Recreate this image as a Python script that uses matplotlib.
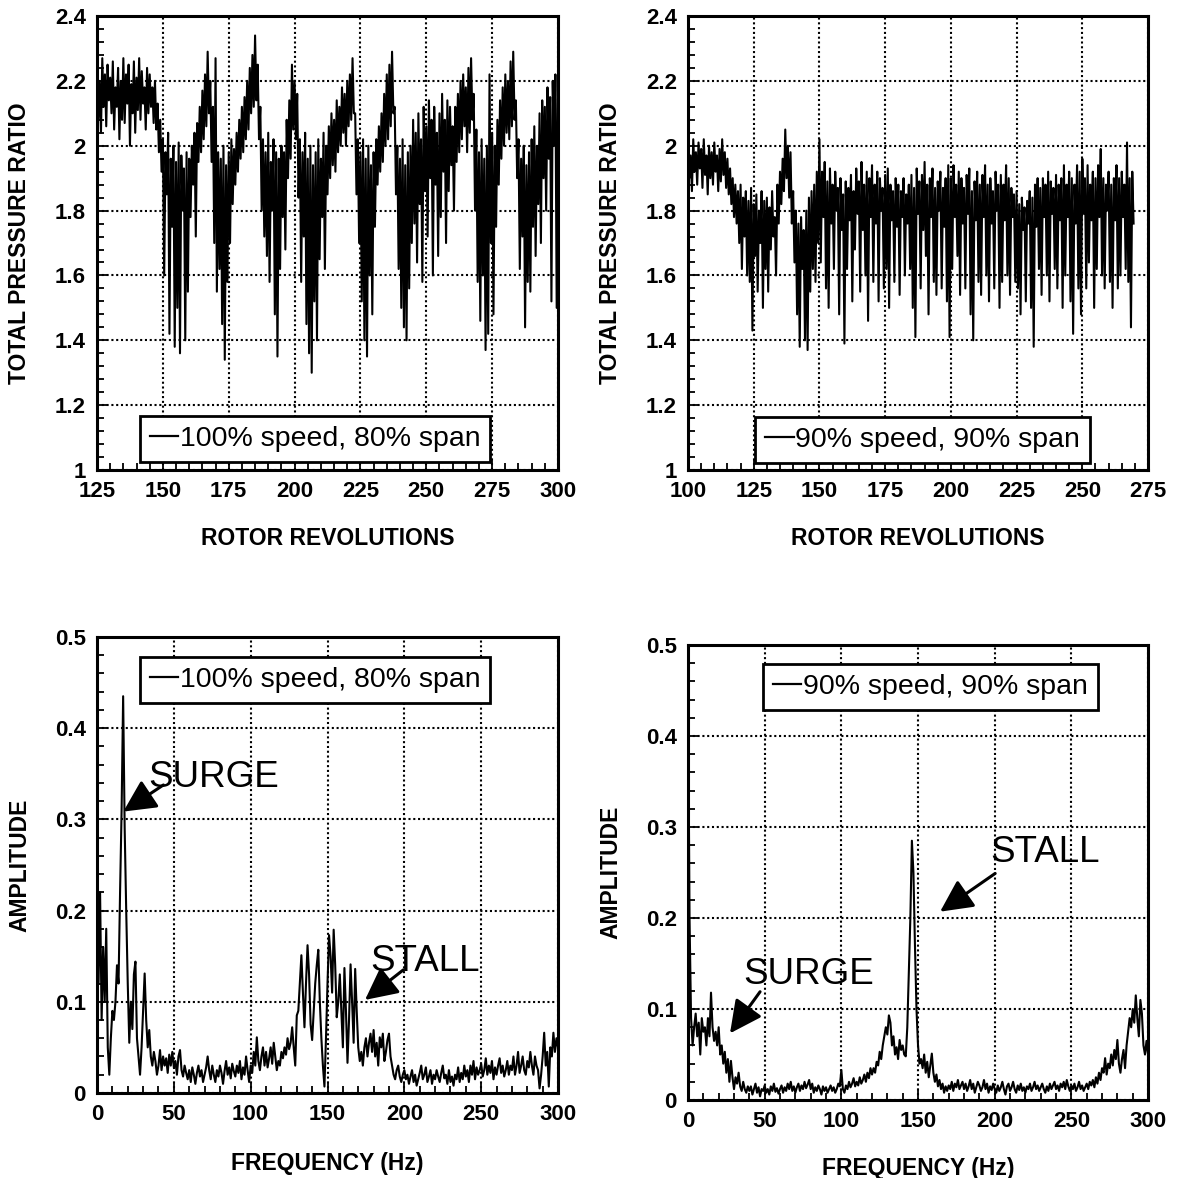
import numpy as np
import matplotlib
matplotlib.use("Agg")
import matplotlib.pyplot as plt
from matplotlib.lines import Line2D
from matplotlib.ticker import MultipleLocator, FuncFormatter
from matplotlib.font_manager import FontProperties

plt.rcParams['font.family'] = ['Liberation Sans', 'DejaVu Sans']

# ---------------- time traces: per-revolution peak / trough of total pressure ratio
rev_a_start = 125
peak_a = [
    2.24, 2.20, 2.27, 2.22, 2.25, 2.21, 2.26, 2.18, 2.24, 2.20,
    2.27, 2.22, 2.25, 2.19, 2.26, 2.21, 2.27, 2.23, 2.18, 2.24,
    2.22, 2.18, 2.20, 2.13, 2.08, 2.02, 1.98, 2.04, 1.96, 2.00,
    1.95, 2.01, 1.97, 1.93, 1.98, 1.96, 2.00, 2.04, 2.07, 2.12,
    2.17, 2.22, 2.29, 2.20, 2.12, 2.27, 1.98, 1.96, 2.00, 1.94,
    1.98, 2.02, 1.99, 2.04, 2.08, 2.12, 2.15, 2.20, 2.24, 2.28,
    2.34, 2.25, 2.12, 2.02, 1.98, 2.04, 1.95, 2.02, 1.98, 1.96,
    2.00, 1.98, 2.08, 2.14, 2.25, 2.20, 2.16, 2.02, 1.98, 2.04,
    1.96, 2.00, 1.94, 1.98, 2.02, 1.96, 2.04, 2.00, 2.06, 2.10,
    2.08, 2.14, 2.12, 2.18, 2.16, 2.20, 2.22, 2.27, 2.10, 2.02,
    1.98, 2.02, 1.96, 2.00, 1.94, 1.98, 2.02, 2.06, 2.10, 2.16,
    2.22, 2.25, 2.29, 2.12, 2.00, 1.96, 2.02, 1.94, 1.98, 2.00,
    2.08, 2.04, 2.10, 2.02, 2.12, 2.06, 2.14, 2.08, 2.12, 2.04,
    2.10, 2.16, 2.08, 2.14, 2.12, 2.06, 2.12, 2.16, 2.20, 2.22,
    2.18, 2.24, 2.27, 2.16, 2.05, 1.98, 2.02, 1.96, 2.00, 2.22,
    2.04, 2.00, 2.08, 2.14, 2.18, 2.22, 2.20, 2.26, 2.29, 2.14,
    2.02, 1.96, 2.00, 1.94, 1.98, 2.02, 2.06, 2.00, 2.10, 2.14,
    2.12, 2.18, 2.15, 2.20, 2.22, 2.22,
]
trough_a = [
    2.08, 2.04, 2.12, 2.06, 2.14, 2.10, 2.05, 2.12, 2.02, 2.08,
    2.07, 2.13, 2.00, 2.10, 2.04, 2.11, 2.08, 2.13, 2.05, 2.10,
    2.12, 2.07, 2.05, 1.98, 1.92, 1.60, 1.85, 1.42, 1.75, 1.38,
    1.50, 1.36, 1.80, 1.40, 1.55, 1.78, 1.88, 1.72, 1.95, 1.98,
    2.02, 2.06, 2.10, 1.95, 1.70, 1.55, 1.62, 1.45, 1.34, 1.58,
    1.70, 1.82, 1.88, 1.92, 1.96, 1.98, 2.02, 2.05, 2.10, 2.12,
    2.14, 2.02, 1.80, 1.72, 1.66, 1.58, 1.80, 1.48, 1.35, 1.62,
    1.78, 1.68, 1.90, 1.96, 2.05, 2.02, 1.84, 1.58, 1.72, 1.45,
    1.36, 1.30, 1.52, 1.40, 1.65, 1.78, 1.62, 1.85, 1.90, 1.94,
    1.92, 1.98, 2.00, 2.04, 2.00, 2.06, 2.08, 2.10, 1.85, 1.70,
    1.52, 1.40, 1.35, 1.60, 1.48, 1.75, 1.88, 1.92, 1.95, 2.00,
    2.02, 2.06, 2.10, 1.85, 1.62, 1.50, 1.44, 1.40, 1.56, 1.70,
    1.76, 1.64, 1.82, 1.58, 1.86, 1.72, 1.90, 1.60, 1.88, 1.66,
    1.78, 1.92, 1.70, 1.86, 1.94, 1.80, 1.95, 1.98, 2.02, 2.06,
    1.98, 2.04, 2.08, 1.80, 1.58, 1.46, 1.60, 1.37, 1.42, 1.70,
    1.48, 1.75, 1.88, 1.96, 2.00, 2.04, 2.02, 2.06, 2.08, 1.90,
    1.62, 1.72, 1.44, 1.58, 1.55, 1.75, 1.66, 1.82, 1.70, 1.90,
    1.80, 1.96, 1.52, 2.00, 1.50,
]

rev_b_start = 100
peak_b = [
    2.00, 1.97, 2.02, 1.98, 2.01, 1.99, 2.02, 1.97, 2.00, 1.98,
    2.01, 1.97, 1.99, 2.02, 1.98, 1.96, 1.93, 1.90, 1.88, 1.86,
    1.88, 1.84, 1.86, 1.83, 1.87, 1.82, 1.85, 1.80, 1.86, 1.83,
    1.84, 1.81, 1.86, 1.78, 1.88, 1.92, 1.96, 2.05, 2.00, 1.98,
    1.86, 1.80, 1.76, 1.78, 1.74, 1.80, 1.84, 1.86, 1.88, 1.92,
    2.02, 1.92, 1.95, 1.89, 1.93, 1.88, 1.92, 1.87, 1.90, 1.85,
    1.89, 1.87, 1.91, 1.86, 1.93, 1.89, 1.95, 1.88, 1.92, 1.90,
    1.94, 1.88, 1.92, 1.90, 1.87, 1.91, 1.93, 1.88, 1.86, 1.90,
    1.88, 1.86, 1.90, 1.85, 1.88, 1.91, 1.87, 1.93, 1.89, 1.91,
    1.95, 1.88, 1.90, 1.93, 1.87, 1.89, 1.92, 1.87, 1.90, 1.94,
    1.90, 1.94, 1.88, 1.92, 1.90, 1.87, 1.91, 1.93, 1.86, 1.89,
    1.92, 1.88, 1.91, 1.94, 1.88, 1.90, 1.86, 1.92, 1.88, 1.91,
    1.88, 1.94, 1.90, 1.87, 1.85, 1.86, 1.82, 1.84, 1.81, 1.83,
    1.86, 1.84, 1.88, 1.90, 1.87, 1.90, 1.88, 1.92, 1.89, 1.87,
    1.91, 1.88, 1.90, 1.94, 1.88, 1.92, 1.90, 1.88, 1.94, 1.92,
    1.96, 1.90, 1.94, 1.88, 1.92, 1.90, 1.94, 1.99, 1.90, 1.88,
    1.92, 1.88, 1.90, 1.94, 1.90, 1.92, 1.88, 2.01, 1.90, 1.92,
]
trough_b = [
    1.90, 1.86, 1.92, 1.88, 1.93, 1.87, 1.91, 1.85, 1.90, 1.88,
    1.92, 1.86, 1.89, 1.91, 1.87, 1.85, 1.82, 1.78, 1.76, 1.70,
    1.62, 1.72, 1.60, 1.58, 1.43, 1.66, 1.55, 1.70, 1.50, 1.62,
    1.55, 1.68, 1.72, 1.60, 1.76, 1.82, 1.86, 1.90, 1.84, 1.76,
    1.64, 1.48, 1.38, 1.62, 1.40, 1.37, 1.55, 1.62, 1.58, 1.70,
    1.64, 1.78, 1.56, 1.50, 1.76, 1.62, 1.80, 1.48, 1.74, 1.39,
    1.62, 1.77, 1.52, 1.68, 1.79, 1.55, 1.74, 1.60, 1.46, 1.78,
    1.58, 1.76, 1.52, 1.80, 1.56, 1.62, 1.50, 1.77, 1.58, 1.75,
    1.54, 1.78, 1.60, 1.76, 1.62, 1.50, 1.41, 1.79, 1.56, 1.74,
    1.66, 1.48, 1.78, 1.58, 1.54, 1.80, 1.56, 1.75, 1.52, 1.41,
    1.62, 1.78, 1.66, 1.54, 1.76, 1.56, 1.79, 1.48, 1.40, 1.77,
    1.58, 1.54, 1.78, 1.60, 1.52, 1.76, 1.56, 1.80, 1.50, 1.58,
    1.77, 1.60, 1.54, 1.78, 1.58, 1.56, 1.48, 1.74, 1.52, 1.76,
    1.50, 1.38, 1.75, 1.62, 1.54, 1.78, 1.60, 1.52, 1.79, 1.62,
    1.56, 1.77, 1.50, 1.60, 1.78, 1.52, 1.42, 1.76, 1.56, 1.48,
    1.79, 1.56, 1.64, 1.77, 1.50, 1.62, 1.78, 1.60, 1.56, 1.80,
    1.58, 1.50, 1.77, 1.56, 1.60, 1.78, 1.62, 1.58, 1.44, 1.76,
]

# ---------------- amplitude spectra, 1 Hz bins from 0 to 300 Hz
amp_a = [
    0.27, 0.12, 0.22, 0.08, 0.16, 0.10, 0.18, 0.05, 0.02, 0.06,
    0.09, 0.08, 0.10, 0.14, 0.12, 0.22, 0.31, 0.435, 0.29, 0.20,
    0.12, 0.055, 0.10, 0.07, 0.13, 0.144, 0.06, 0.04, 0.02, 0.05,
    0.09, 0.131, 0.08, 0.05, 0.069, 0.04, 0.03, 0.045, 0.035, 0.02,
    0.03, 0.047, 0.025, 0.04, 0.03, 0.038, 0.022, 0.042, 0.03, 0.045,
    0.028, 0.035, 0.02, 0.04, 0.047, 0.025, 0.018, 0.03, 0.022, 0.015,
    0.025, 0.012, 0.028, 0.02, 0.01, 0.022, 0.03, 0.018, 0.025, 0.012,
    0.02, 0.028, 0.04, 0.025, 0.015, 0.03, 0.02, 0.012, 0.025, 0.018,
    0.03, 0.022, 0.01, 0.024, 0.035, 0.02, 0.028, 0.016, 0.032, 0.024,
    0.018, 0.03, 0.022, 0.035, 0.015, 0.028, 0.02, 0.04, 0.025, 0.012,
    0.03, 0.022, 0.045, 0.03, 0.061, 0.035, 0.025, 0.04, 0.05, 0.03,
    0.045, 0.028, 0.038, 0.05, 0.032, 0.055, 0.04, 0.025, 0.035, 0.03,
    0.045, 0.038, 0.05, 0.042, 0.06, 0.048, 0.055, 0.072, 0.05, 0.03,
    0.085, 0.09, 0.12, 0.151, 0.11, 0.072, 0.12, 0.162, 0.13, 0.075,
    0.058, 0.09, 0.12, 0.14, 0.157, 0.10, 0.06, 0.03, 0.007, 0.06,
    0.12, 0.173, 0.15, 0.11, 0.179, 0.14, 0.083, 0.10, 0.13, 0.09,
    0.05, 0.137, 0.09, 0.033, 0.08, 0.141, 0.10, 0.055, 0.136, 0.09,
    0.05, 0.035, 0.045, 0.03, 0.05, 0.06, 0.04, 0.055, 0.065, 0.045,
    0.069, 0.04, 0.055, 0.03, 0.061, 0.05, 0.065, 0.035, 0.045, 0.058,
    0.065, 0.04, 0.03, 0.02, 0.015, 0.025, 0.03, 0.018, 0.012, 0.02,
    0.025, 0.015, 0.02, 0.01, 0.018, 0.025, 0.012, 0.02, 0.008, 0.015,
    0.022, 0.03, 0.015, 0.02, 0.028, 0.012, 0.018, 0.025, 0.01, 0.02,
    0.015, 0.025, 0.018, 0.012, 0.022, 0.03, 0.016, 0.02, 0.01, 0.025,
    0.012, 0.018, 0.008, 0.02, 0.015, 0.028, 0.012, 0.022, 0.015, 0.03,
    0.018, 0.025, 0.012, 0.03, 0.02, 0.035, 0.015, 0.028, 0.02, 0.025,
    0.032, 0.018, 0.025, 0.038, 0.02, 0.03, 0.022, 0.035, 0.015, 0.028,
    0.02, 0.03, 0.038, 0.022, 0.03, 0.018, 0.025, 0.035, 0.02, 0.03,
    0.025, 0.04, 0.02, 0.03, 0.045, 0.022, 0.03, 0.04, 0.025, 0.02,
    0.035, 0.028, 0.045, 0.03, 0.02, 0.04, 0.03, 0.025, 0.005, 0.02,
    0.04, 0.066, 0.03, 0.045, 0.007, 0.05, 0.04, 0.066, 0.045, 0.06,
    0.05,
]
amp_b = [
    0.46, 0.20, 0.09, 0.06, 0.08, 0.095, 0.07, 0.085, 0.05, 0.09,
    0.075, 0.08, 0.06, 0.09, 0.07, 0.118, 0.08, 0.065, 0.075, 0.06,
    0.08, 0.05, 0.06, 0.04, 0.053, 0.03, 0.045, 0.02, 0.043, 0.025,
    0.012, 0.025, 0.018, 0.03, 0.015, 0.01, 0.02, 0.012, 0.008, 0.015,
    0.01, 0.015, 0.006, 0.012, 0.018, 0.008, 0.014, 0.004, 0.012, 0.01,
    0.016, 0.008, 0.012, 0.006, 0.015, 0.01, 0.018, 0.009, 0.013, 0.007,
    0.012, 0.016, 0.008, 0.014, 0.01, 0.018, 0.012, 0.02, 0.01, 0.015,
    0.008, 0.014, 0.018, 0.01, 0.016, 0.012, 0.02, 0.013, 0.017, 0.022,
    0.012, 0.018, 0.008, 0.014, 0.01, 0.016, 0.012, 0.006, 0.015, 0.01,
    0.014, 0.008, 0.012, 0.016, 0.01, 0.014, 0.008, 0.012, 0.018, 0.015,
    0.033, 0.012, 0.008, 0.016, 0.012, 0.02, 0.014, 0.018, 0.024, 0.015,
    0.02, 0.016, 0.025, 0.018, 0.022, 0.028, 0.02, 0.03, 0.024, 0.035,
    0.028, 0.035, 0.03, 0.042, 0.038, 0.053, 0.045, 0.06, 0.07, 0.08,
    0.072, 0.093, 0.085, 0.06, 0.07, 0.05, 0.058, 0.045, 0.066, 0.055,
    0.06, 0.05, 0.048, 0.08, 0.14, 0.20, 0.285, 0.25, 0.17, 0.10,
    0.06, 0.04, 0.045, 0.035, 0.05, 0.03, 0.042, 0.025, 0.038, 0.051,
    0.03, 0.02, 0.028, 0.015, 0.022, 0.012, 0.018, 0.008, 0.015, 0.01,
    0.016, 0.012, 0.02, 0.01, 0.018, 0.014, 0.022, 0.012, 0.016, 0.02,
    0.012, 0.018, 0.01, 0.015, 0.022, 0.012, 0.018, 0.008, 0.014, 0.02,
    0.016, 0.01, 0.014, 0.022, 0.012, 0.018, 0.008, 0.015, 0.011, 0.018,
    0.012, 0.008, 0.016, 0.01, 0.014, 0.02, 0.012, 0.006, 0.015, 0.018,
    0.01, 0.014, 0.02, 0.012, 0.008, 0.016, 0.011, 0.018, 0.01, 0.014,
    0.008, 0.015, 0.012, 0.018, 0.01, 0.014, 0.02, 0.012, 0.016, 0.01,
    0.014, 0.018, 0.012, 0.008, 0.015, 0.01, 0.018, 0.012, 0.016, 0.02,
    0.012, 0.016, 0.01, 0.018, 0.014, 0.02, 0.012, 0.022, 0.015, 0.01,
    0.016, 0.012, 0.018, 0.01, 0.014, 0.02, 0.012, 0.016, 0.01, 0.014,
    0.018, 0.012, 0.02, 0.016, 0.022, 0.014, 0.025, 0.018, 0.03, 0.022,
    0.035, 0.03, 0.046, 0.028, 0.04, 0.035, 0.05, 0.038, 0.055, 0.045,
    0.066, 0.04, 0.03, 0.045, 0.055, 0.035, 0.06, 0.075, 0.09, 0.08,
    0.10, 0.085, 0.115, 0.09, 0.07, 0.11, 0.095, 0.06, 0.05, 0.065,
    0.05,
]

label_a = "100% speed, 80% span"
label_b = "90% speed, 90% span"


def zigzag(start, peaks, troughs):
    """Interleave per-revolution peaks and troughs into one trace."""
    xs, ys = [], []
    for i, p in enumerate(peaks):
        xs.append(start + i)
        ys.append(p)
        if i < len(troughs):
            xs.append(start + i + 0.5)
            ys.append(troughs[i])
    return np.array(xs), np.array(ys)


fig = plt.figure(figsize=(11.86, 11.78), dpi=100)

ax_tl = fig.add_axes([0.0818, 0.6010, 0.3887, 0.3854])
ax_tr = fig.add_axes([0.5801, 0.6010, 0.3879, 0.3854])
ax_bl = fig.add_axes([0.0818, 0.0722, 0.3887, 0.3871])
ax_br = fig.add_axes([0.5801, 0.0662, 0.3879, 0.3862])

families = ['Liberation Sans', 'DejaVu Sans']
tick_prop = FontProperties(family=families, weight='bold', size=16)
label_font = dict(family=families, weight='bold', size=16.5)
fmt = FuncFormatter(lambda v, p: f"{v:g}")


def style(ax, xmaj, xmin, ymaj, ymin):
    ax.xaxis.set_major_locator(MultipleLocator(xmaj))
    ax.xaxis.set_minor_locator(MultipleLocator(xmin))
    ax.yaxis.set_major_locator(MultipleLocator(ymaj))
    ax.yaxis.set_minor_locator(MultipleLocator(ymin))
    ax.xaxis.set_major_formatter(fmt)
    ax.yaxis.set_major_formatter(fmt)
    ax.tick_params(which='both', direction='in', top=False, right=False,
                   width=1.3, color='black')
    ax.tick_params(which='major', length=7, pad=8)
    ax.tick_params(which='minor', length=5)
    for lab in ax.get_xticklabels() + ax.get_yticklabels():
        lab.set_fontproperties(tick_prop)
    ax.grid(True, which='major', color='black', linestyle=(0, (1, 1.3)), lw=1.5)
    for sp in ax.spines.values():
        sp.set_linewidth(2.2)
    ax.set_axisbelow(True)


def add_legend(ax, text, x0, y0):
    h = Line2D([], [], color='black', lw=1.6)
    leg = ax.legend([h], [text], loc='lower left', bbox_to_anchor=(x0, y0),
                    bbox_transform=ax.transAxes, frameon=True, fancybox=False,
                    framealpha=1, edgecolor='black', handlelength=1.0,
                    handletextpad=0.05, borderpad=0.35, borderaxespad=0,
                    prop=dict(family=families, size=20.5))
    leg.get_frame().set_linewidth(2.0)


# top-left: 100% speed trace
x, y = zigzag(rev_a_start, peak_a, trough_a)
ax_tl.plot(x, y, color='black', lw=1.5)
ax_tl.set_xlim(125, 300)
ax_tl.set_ylim(1, 2.4)
style(ax_tl, 25, 5, 0.2, 0.04)
add_legend(ax_tl, label_a, 0.093, 0.018)

# top-right: 90% speed trace
x, y = zigzag(rev_b_start, peak_b, trough_b)
ax_tr.plot(x, y, color='black', lw=1.5)
ax_tr.set_xlim(100, 275)
ax_tr.set_ylim(1, 2.4)
style(ax_tr, 25, 5, 0.2, 0.04)
add_legend(ax_tr, label_b, 0.146, 0.016)

# bottom spectra
freq = np.arange(len(amp_a))
ax_bl.plot(freq, amp_a, color='black', lw=1.5)
ax_bl.set_xlim(0, 300)
ax_bl.set_ylim(0, 0.5)
style(ax_bl, 50, 10, 0.1, 0.02)
add_legend(ax_bl, label_a, 0.093, 0.855)

freq = np.arange(len(amp_b))
ax_br.plot(freq, amp_b, color='black', lw=1.5)
ax_br.set_xlim(0, 300)
ax_br.set_ylim(0, 0.5)
style(ax_br, 50, 10, 0.1, 0.02)
add_legend(ax_br, label_b, 0.163, 0.857)

for ax in (ax_tl, ax_tr):
    ax.set_xlabel("ROTOR REVOLUTIONS", **label_font)
    ax.set_ylabel("TOTAL PRESSURE RATIO", **label_font)
for ax in (ax_bl, ax_br):
    ax.set_xlabel("FREQUENCY (Hz)", **label_font)
    ax.set_ylabel("AMPLITUDE", **label_font)

ax_tl.xaxis.set_label_coords(0.5, -0.1256)
ax_tr.xaxis.set_label_coords(0.5, -0.1256)
ax_bl.xaxis.set_label_coords(0.5, -0.129)
ax_br.xaxis.set_label_coords(0.5, -0.125)
for ax in (ax_tl, ax_tr, ax_bl, ax_br):
    ax.yaxis.set_label_coords(-0.143, 0.5)

# annotations
note_font = dict(family=families, size=26.5)
arrow = dict(arrowstyle='-|>,head_length=0.6,head_width=0.3', color='black',
             lw=2.2, mutation_scale=33, shrinkA=0, shrinkB=0)

ax_bl.text(33.2, 0.3355, "SURGE", ha='left', va='baseline', **note_font)
ax_bl.annotate("", xy=(17.1, 0.3085), xytext=(43.2, 0.3377), arrowprops=arrow)
ax_bl.text(177.6, 0.134, "STALL", ha='left', va='baseline', **note_font)
ax_bl.annotate("", xy=(174.4, 0.102), xytext=(199.3, 0.1349), arrowprops=arrow)

ax_br.text(197.0, 0.2615, "STALL", ha='left', va='baseline', **note_font)
ax_br.annotate("", xy=(164.4, 0.207), xytext=(200.3, 0.249), arrowprops=arrow)
ax_br.text(35.9, 0.1275, "SURGE", ha='left', va='baseline', **note_font)
ax_br.annotate("", xy=(27.4, 0.0733), xytext=(47.0, 0.119), arrowprops=arrow)

fig.savefig("out.png", dpi=100, facecolor='white')
